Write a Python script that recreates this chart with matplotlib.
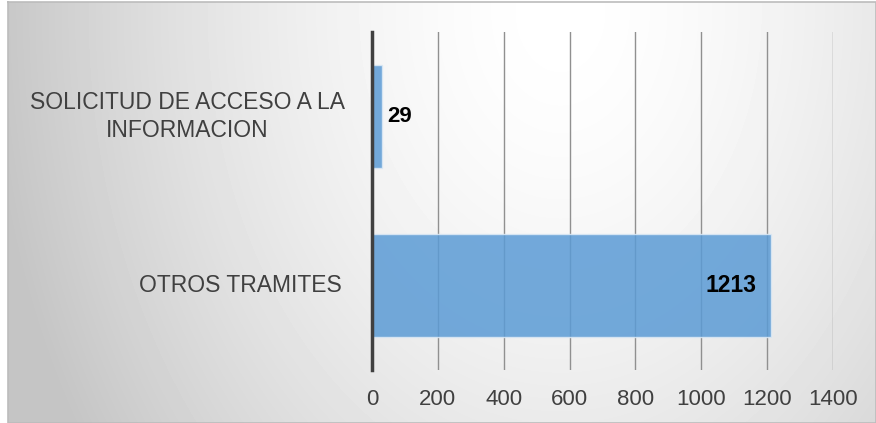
import matplotlib
matplotlib.use("Agg")
from matplotlib import pyplot as plt
from matplotlib import transforms
import numpy as np

categories = ["OTROS TRAMITES", "SOLICITUD DE ACCESO A LA\nINFORMACION"]
values = [1213, 29]
xticks = [0, 200, 400, 600, 800, 1000, 1200, 1400]

plt.rcParams['font.family'] = ['Liberation Sans', 'DejaVu Sans']

fig = plt.figure(figsize=(8.76, 4.23), dpi=100, facecolor="white")

# soft radial gradient behind the chart, like the office chart style
bg = fig.add_axes([0, 0, 1, 1], zorder=-10)
yy, xx = np.mgrid[0:421, 0:868]
xx = xx + 8
yy = yy + 2
d = np.sqrt(((xx - 560) / 620.0) ** 2 + ((yy - 10) / 850.0) ** 2)
shade = np.clip(1.0 - 0.26 * d ** 1.6, 0.77, 1.0)
bg.imshow(shade, cmap="gray", vmin=0, vmax=1, aspect="auto",
          extent=[8, 876, 423, 2], interpolation="bilinear")
bg.plot([8, 876, 876, 8, 8], [2, 2, 423, 423, 2], color="#bcbcbc", lw=1.2)
bg.set_xlim(0, 876)
bg.set_ylim(423, 0)
bg.axis("off")

ax = fig.add_axes([372 / 876, 1 - 370 / 423, 461 / 876, 338 / 423])
ax.patch.set_alpha(0)
ypos = np.arange(len(categories))
ax.barh(ypos, values, height=0.61, color="#5b9bd5", alpha=0.85,
        edgecolor="#dce9f5", linewidth=1, zorder=3)

ax.set_xlim(0, 1400)
ax.set_ylim(-0.5, 1.5)
ax.set_xticks(xticks)
ax.set_xticklabels([str(t) for t in xticks], fontsize=16, color="#404040")
ax.set_yticks(ypos)
ax.set_yticklabels([])
ax.tick_params(axis="both", length=0)
ax.tick_params(axis="x", pad=14)
ax.grid(axis="x", color="#909090", linewidth=1, zorder=2)
for s in ["top", "right", "bottom"]:
    ax.spines[s].set_visible(False)
ax.spines["left"].set_color("#404040")
ax.spines["left"].set_linewidth(2.5)
ax.spines["left"].set_zorder(4)

# category labels, centred in the label area like the original
lab_tr = transforms.blended_transform_factory(ax.transAxes, ax.transData)
lab_x = [-0.285, -0.400]
for y, name, lx in zip(ypos, categories, lab_x):
    ax.text(lx, y, name, transform=lab_tr, ha="center", va="center",
            multialignment="center", fontsize=16.5, color="#404040",
            linespacing=1.25)

ax.text(values[0] - 45, ypos[0], str(values[0]), ha="right", va="center",
        fontsize=16.5, fontweight="bold", color="black", zorder=5)
ax.text(values[1] + 18, ypos[1], str(values[1]), ha="left", va="center",
        fontsize=16, fontweight="bold", color="black", zorder=5)

fig.savefig("out.png", dpi=100, facecolor="white")
